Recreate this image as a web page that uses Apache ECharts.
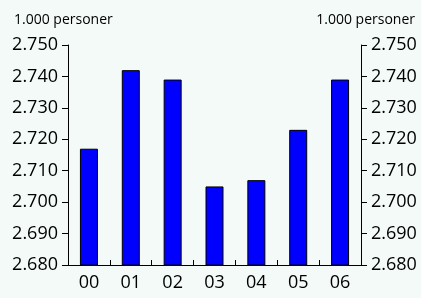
<!DOCTYPE html>
<html>
<head>
<meta charset="utf-8">
<script src="https://cdn.jsdelivr.net/npm/echarts@6/dist/echarts.min.js"></script>
<style>
html, body { margin: 0; padding: 0; background: #f3faf8; }
#chart { width: 421px; height: 298px; }
</style>
</head>
<body>
<div id="chart"></div>
<script>
var years = ['00', '01', '02', '03', '04', '05', '06'];
var persons = [2.717, 2.742, 2.739, 2.705, 2.707, 2.723, 2.739];
var unitLabel = '1.000 personer';

var font = 'Open Sans';

function fmt(v){
    return v.toFixed(3);
}

function yAxisSide(pos){
    return {
        type: 'value',
        position: pos,
        min: 2.68,
        max: 2.75,
        interval: 0.01,
        axisLine: { show: true, lineStyle: { color: '#000' } },
        axisTick: { show: true, length: 6, lineStyle: { color: '#000' } },
        splitLine: { show: false },
        axisLabel: {
            formatter: fmt,
            color: '#000',
            fontSize: 18,
            fontFamily: font,
            margin: 10
        }
    };
}

var chart = echarts.init(document.getElementById('chart'));
var option = {
    backgroundColor: '#f3faf8',
    animation: false,
    title: [
        { text: unitLabel, left: 9, top: 8,
          textStyle: { fontSize: 14, fontWeight: 'normal', color: '#000', fontFamily: font } },
        { text: unitLabel, right: 1, top: 8,
          textStyle: { fontSize: 14, fontWeight: 'normal', color: '#000', fontFamily: font } }
    ],
    grid: { left: 68, right: 60, top: 45, bottom: 33 },
    xAxis: {
        type: 'category',
        data: years,
        axisLine: { lineStyle: { color: '#000' } },
        axisTick: { show: true, inside: true, length: 5, lineStyle: { color: '#000' } },
        axisLabel: { color: '#000', fontSize: 18, fontFamily: font, margin: 9 }
    },
    yAxis: [yAxisSide('left'), yAxisSide('right')],
    series: [{
        type: 'bar',
        data: persons,
        barWidth: 18,
        itemStyle: { color: '#0000ff', borderColor: '#000', borderWidth: 1 }
    }]
};
chart.setOption(option);
</script>
</body>
</html>
